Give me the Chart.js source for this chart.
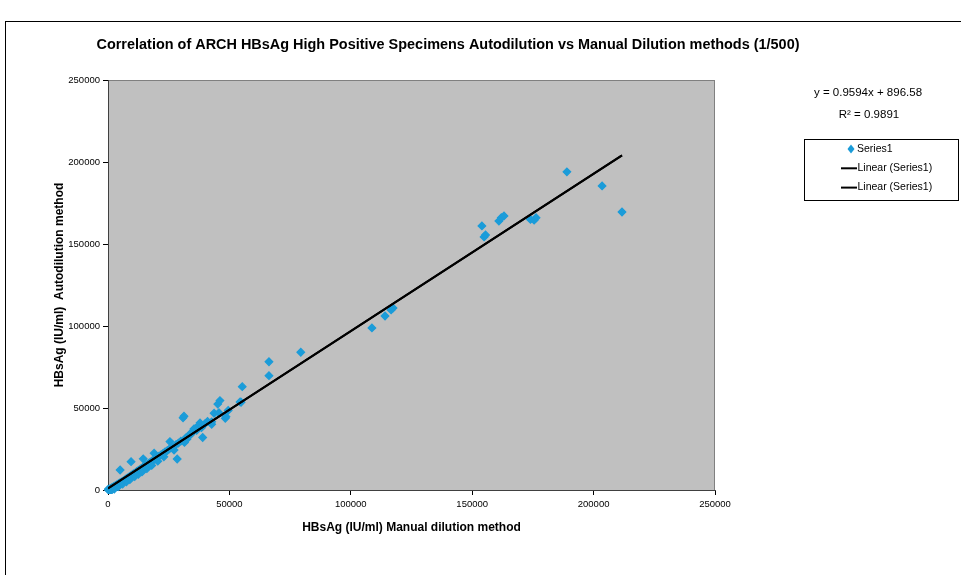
<!DOCTYPE html>
<html>
<head>
<meta charset="utf-8">
<script src="https://cdn.jsdelivr.net/npm/chart.js@4"></script>
<style>
  body { margin: 0; background: #fff; }
</style>
</head>
<body>
<canvas id="canvas" width="961" height="575"></canvas>
<script>
// values (IU/ml)
const manualValues = [
    0, 300, 600, 900, 1200, 1500, 1800, 2100, 2400, 2800, 3200, 3600, 4000, 4400, 4900, 5000,
    5300, 5800, 6300, 6800, 7300, 7800, 8300, 8800, 9300, 9500, 9800, 10300, 10800, 11300, 11800,
    12300, 12800, 13300, 13800, 14300, 14500, 14800, 15300, 15800, 16400, 17000, 17600, 18200,
    18800, 19000, 19500, 20200, 21000, 21800, 22600, 23500, 24400, 25300, 25500, 26300, 27200,
    28000, 28500, 29000, 30000, 30900, 31300, 31500, 32000, 32500, 33000, 33800, 34000, 34500,
    35000, 35400, 36000, 36500, 37000, 37900, 38000, 38500, 39000, 40000, 41000, 42700, 42700,
    43700, 45200, 45700, 46100, 48300, 48600, 49500, 54400, 54800, 55300, 66300, 66300, 79400,
    108700, 114100, 116600, 117400, 154000, 154900, 155500, 161000, 162000, 163100, 174000,
    175500, 176300, 189000, 203500, 211700,
    1000, 2600, 4200, 6000, 7600, 9000, 11000, 12500, 14000, 16000, 18000, 20500, 23000
]
const autoValues = [
    300, 200, 500, 700, 900, 1300, 1400, 1700, 2100, 2300, 2700, 3100, 3400, 3900, 4300, 12200,
    4700, 5100, 5600, 6000, 6600, 7000, 7500, 8100, 8600, 17300, 9100, 9600, 10100, 10500, 11200,
    11600, 12100, 12700, 13200, 13700, 19000, 14300, 14700, 15300, 15700, 16500, 17000, 17800,
    18300, 22400, 19000, 19700, 20600, 21400, 22200, 23300, 24000, 25100, 29500, 26000, 24400,
    27700, 18900, 28600, 29800, 44000, 45000, 29000, 31700, 31000, 32600, 33500, 34500, 34800,
    35500, 37200, 37500, 36300, 38500, 40900, 39000, 38000, 32000, 40500, 41800, 41600, 40100,
    46800, 52400, 47100, 54500, 43700, 44700, 48500, 53700, 53500, 63000, 78200, 69700, 84000,
    98800, 106100, 109800, 111000, 161000, 154300, 155500, 164000, 166000, 167100, 165000,
    164500, 166000, 194000, 185400, 169500,
    -800, 600, 2000, 3600, 5000, 6300, 8200, 9600, 11000, 13000, 15000, 17600, 20200
]

// trendline shown in the picture
const trendSlope = 0.9594
const trendIntercept = 896.58
const equationLines = ["y = 0.9594x + 896.58", "R\u00b2 = 0.9891"]

const axisTicks = [0, 50000, 100000, 150000, 200000, 250000]
const titleText = "Correlation of ARCH HBsAg High Positive Specimens Autodilution vs Manual Dilution methods (1/500)"
const xTitle = "HBsAg (IU/ml) Manual dilution method"
const yTitle = "HBsAg (IU/ml)  Autodilution method"

const blue = "#1b9cd9"
const fontFamily = "'Liberation Sans', Arial, sans-serif"

let points = manualValues.map((x, i) => ({ x: x, y: autoValues[i] }))
let xMin = Math.min(...manualValues)
let xMax = Math.max(...manualValues)
let trend = [
    { x: xMin, y: trendSlope * xMin + trendIntercept },
    { x: xMax, y: trendSlope * xMax + trendIntercept }
]

const excelLook = {
    id: "excelLook",
    beforeDraw(chart) {
        const ctx = chart.ctx
        const a = chart.chartArea
        ctx.save()
        ctx.fillStyle = "#fff"
        ctx.fillRect(0, 0, chart.width, chart.height)
        // outer chart frame
        ctx.strokeStyle = "#000"
        ctx.lineWidth = 1
        ctx.strokeRect(5.5, 21.5, 2000, 2000)
        // plot area
        ctx.fillStyle = "#c0c0c0"
        ctx.fillRect(a.left, a.top, a.right - a.left, a.bottom - a.top)
        ctx.strokeStyle = "#808080"
        ctx.strokeRect(a.left + 0.5, a.top + 0.5, a.right - a.left - 1, a.bottom - a.top)
        ctx.restore()
    },
    afterDraw(chart) {
        const ctx = chart.ctx
        ctx.save()
        ctx.fillStyle = "#000"
        ctx.textAlign = "center"
        ctx.textBaseline = "middle"
        ctx.font = "bold 14.5px " + fontFamily
        ctx.fillText(titleText, 448, 45, 703)

        ctx.font = "11.5px " + fontFamily
        ctx.fillText(equationLines[0], 868, 93)
        ctx.fillText(equationLines[1], 869, 115)

        // legend box
        ctx.strokeStyle = "#000"
        ctx.lineWidth = 1
        ctx.strokeRect(804.5, 139.5, 154, 61)
        ctx.font = "10.5px " + fontFamily
        ctx.textAlign = "left"
        const sets = chart.data.datasets
        ctx.fillStyle = blue
        ctx.beginPath()
        ctx.moveTo(851, 144.5)
        ctx.lineTo(854.5, 149)
        ctx.lineTo(851, 153.5)
        ctx.lineTo(847.5, 149)
        ctx.closePath()
        ctx.fill()
        ctx.fillStyle = "#000"
        ctx.fillText(sets[0].label, 857, 149)
        ctx.lineWidth = 2
        for (let i = 1; i < sets.length; i++) {
            const y = 149 + i * 19.3
            ctx.beginPath()
            ctx.moveTo(841, y)
            ctx.lineTo(857, y)
            ctx.stroke()
            ctx.fillText(sets[i].label, 857.5, y)
        }
        ctx.restore()
    }
}

const tickFont = { family: fontFamily, size: 9.5 }
const titleFont = { family: fontFamily, size: 12, weight: "bold" }

const config = {
    type: "scatter",
    data: {
        datasets: [
            {
                label: "Series1",
                data: points,
                pointStyle: "rectRot",
                pointRadius: 3.8,
                pointBorderWidth: 1.2,
                backgroundColor: blue,
                borderColor: blue,
                clip: 4,
                order: 2
            },
            {
                label: "Linear (Series1)",
                type: "line",
                data: trend,
                borderColor: "#000",
                borderWidth: 2,
                pointRadius: 0,
                order: 1
            },
            {
                label: "Linear (Series1)",
                type: "line",
                data: trend,
                borderColor: "#000",
                borderWidth: 2,
                pointRadius: 0,
                order: 0
            }
        ]
    },
    options: {
        responsive: false,
        animation: false,
        devicePixelRatio: 1,
        layout: { padding: { left: 0, top: 80, right: 246, bottom: 0 } },
        plugins: {
            legend: { display: false },
            title: { display: false },
            tooltip: { enabled: false }
        },
        scales: {
            x: {
                type: "linear",
                min: 0,
                max: 250000,
                afterBuildTicks: scale => { scale.ticks = axisTicks.map(v => ({ value: v })) },
                afterFit: scale => { scale.height = 85 },
                ticks: { color: "#000", font: tickFont, padding: 4, maxRotation: 0, callback: v => String(v) },
                grid: { display: true, drawOnChartArea: false, drawTicks: true, tickLength: 5, color: "#000" },
                border: { display: true, color: "#404040" },
                title: { display: true, text: xTitle, color: "#000", font: titleFont, padding: { top: 0, bottom: 40 } }
            },
            y: {
                type: "linear",
                min: 0,
                max: 250000,
                afterBuildTicks: scale => { scale.ticks = axisTicks.map(v => ({ value: v })) },
                afterFit: scale => { scale.width = 108 },
                ticks: { color: "#000", font: tickFont, padding: 3, callback: v => String(v) },
                grid: { display: true, drawOnChartArea: false, drawTicks: true, tickLength: 5, color: "#000" },
                border: { display: true, color: "#404040" },
                title: { display: true, text: yTitle, color: "#000", font: titleFont, padding: { top: 52, bottom: 0 } }
            }
        }
    },
    plugins: [excelLook]
}

let chart = new Chart(document.getElementById("canvas").getContext("2d"), config)
</script>
</body>
</html>
